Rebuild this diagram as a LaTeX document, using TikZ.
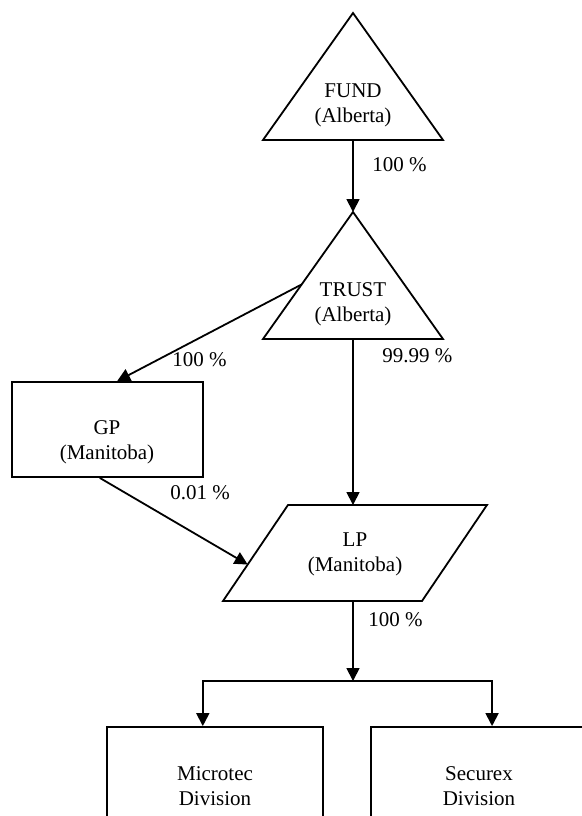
\documentclass[tikz,border=0pt]{standalone}
\usepackage{fontspec}
\setmainfont{Liberation Serif}
\usetikzlibrary{arrows.meta,calc}

\tikzstyle{entity} = [draw,line width=0.9pt]
\tikzstyle{division} = [entity,minimum width=108pt,minimum height=59pt,align=center,font=\fontsize{10.5}{12.5}\selectfont]
\tikzstyle{caption} = [align=center,font=\fontsize{10.5}{12.5}\selectfont]
\tikzstyle{share} = [anchor=west,inner sep=0pt,font=\fontsize{10.5}{12.5}\selectfont]
\tikzstyle{arrowdecorate}=[-{Triangle[length=6.5pt,width=6.5pt]},line width=0.9pt]

\begin{document}
\begin{tikzpicture}[x=0.5pt,y=-0.5pt]
  \useasboundingbox (0,0) rectangle (582,816);
  \clip (0,0) rectangle (582,816);

  % triangles
  \foreach \nodename/\y/\entityname in {fund/13/FUND, trust/212/TRUST}
  {
    \draw[entity] (353,\y) coordinate (\nodename-apex) -- (443,\y+127) coordinate (\nodename-right)
      -- (263,\y+127) coordinate (\nodename-left) -- cycle;
    \coordinate (\nodename-base) at (353,\y+127);
    \node[caption] (\nodename) at (353,\y+92) {\entityname\\(Alberta)};
  }

  % boxes
  \node[entity,minimum width=95.5pt,minimum height=47.5pt] (gp) at (107.5,429.5) {};
  \node[caption] (gp-name) at (107,442) {GP\\(Manitoba)};

  \draw[entity] (288,505) coordinate (lp-nw) -- (487,505) coordinate (lp-ne)
    -- (422,601) coordinate (lp-se) -- (223,601) coordinate (lp-sw) -- cycle;
  \coordinate (lp-top) at (353,505);
  \coordinate (lp-base) at (353,601);
  \node[caption] (lp) at (355,554) {LP\\(Manitoba)};

  \node[division] (microtec) at (215,786) {Microtec\\Division};
  \node[division] (securex) at (479,786) {Securex\\Division};

  % ownership lines
  \coordinate (split) at (353,681);
  \draw[arrowdecorate] (fund-base) -- (trust-apex);
  \draw[arrowdecorate] ($(trust-apex)!0.57!(trust-left)$) -- ($(gp.north west)!0.55!(gp.north east)$);
  \draw[arrowdecorate] (trust-base) -- (lp-top);
  \draw[arrowdecorate] ($(gp.south west)!0.46!(gp.south east)$) -- ($(lp-nw)!0.62!(lp-sw)$);
  \draw[arrowdecorate] (lp-base) -- (split);
  \draw[arrowdecorate] (split) -| ($(microtec.north west)!0.444!(microtec.north east)$);
  \draw[arrowdecorate] (split) -| ($(securex.north west)!0.56!(securex.north east)$);

  % percentages
  \foreach \x/\y/\share [count=\i] in {372/165/100, 172/360/100, 382/356/99.99, 170/493/0.01, 368/620/100}
    \node[share] (share-\i) at (\x,\y) {\share\ \%};

\end{tikzpicture}
\end{document}
